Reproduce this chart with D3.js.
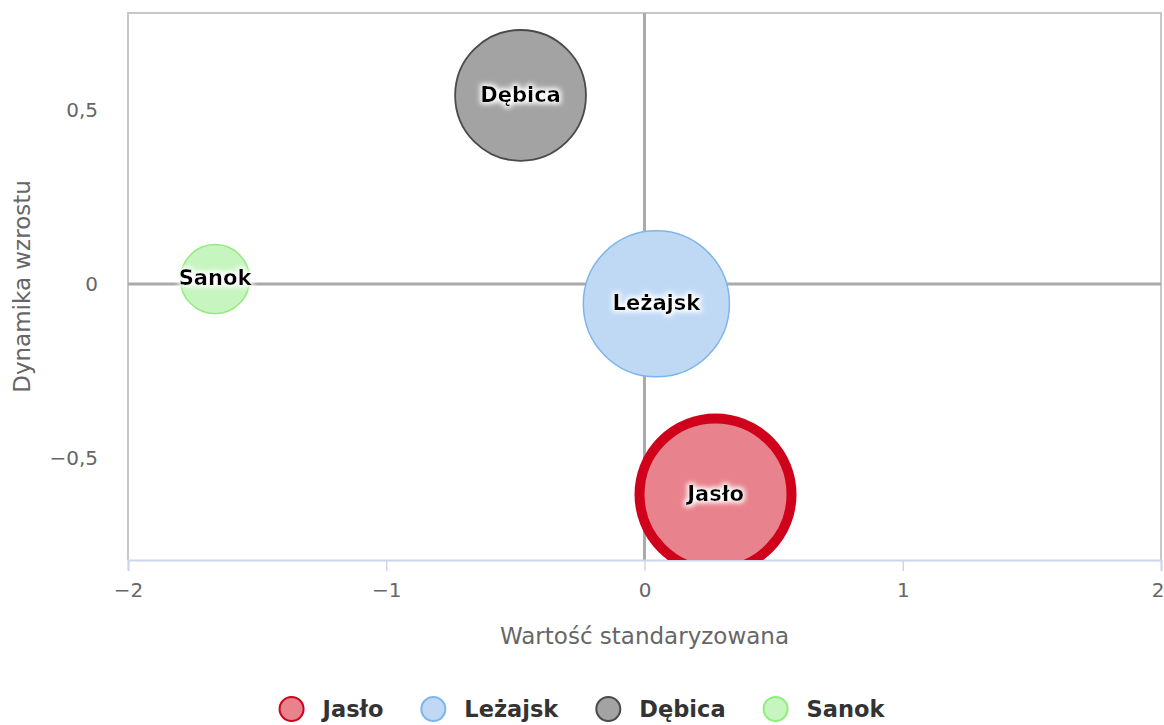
<!DOCTYPE html>
<html>
<head>
<meta charset="utf-8">
<script src="https://cdn.jsdelivr.net/npm/d3@7"></script>
<style>
  body { margin: 0; background: #fff; }
  text { font-family: "DejaVu Sans", sans-serif; }
</style>
</head>
<body>
<script>
var names = ["Jasło", "Leżajsk", "Dębica", "Sanok"];
var xValues = [0.275, 0.046, -0.48, -1.663];
var yValues = [-0.606, -0.057, 0.543, 0.014];
var zValues = [100, 83, 67, 19];
var fills = ["#e8828c", "#bfd9f5", "#a3a3a3", "#c6f5c0"];
var strokes = ["#d0021b", "#7cb5ec", "#4a4a4a", "#90ed7d"];
var strokeWidths = [10, 1.5, 1.8, 1.5];
var xTicks = [-2, -1, 0, 1, 2];
var yTicks = [-0.5, 0, 0.5];

var svg = d3.select("body").append("svg")
  .attr("width", 1164)
  .attr("height", 725);

var margin = { top: 13, right: 3, bottom: 165, left: 128 },
  width = 1164 - margin.left - margin.right,
  height = 725 - margin.top - margin.bottom,
  g = svg.append("g").attr("transform", "translate(" + margin.left + "," + margin.top + ")");

var x = d3.scaleLinear().domain([-2, 2]).range([0, width]);
var y = d3.scaleLinear().domain([-0.7945, 0.7802]).range([height, 0]);
var r = d3.scaleSqrt().domain([0, 100]).range([0, 81]);

var fmt = function(d) {
  return d3.format("")(d).replace(".", ",").replace("-", "\u2212");
};

var defs = svg.append("defs");
defs.append("clipPath").attr("id", "plot")
  .append("rect").attr("width", width).attr("height", height);
var glow = defs.append("filter").attr("id", "glow")
  .attr("x", "-30%").attr("y", "-60%").attr("width", "160%").attr("height", "220%");
glow.append("feMorphology").attr("in", "SourceAlpha").attr("operator", "dilate").attr("radius", 1.5).attr("result", "d");
glow.append("feGaussianBlur").attr("in", "d").attr("stdDeviation", 2.5).attr("result", "b");
glow.append("feFlood").attr("flood-color", "#fff");
glow.append("feComposite").attr("in2", "b").attr("operator", "in").attr("result", "w");
var merge = glow.append("feMerge");
merge.append("feMergeNode").attr("in", "w");
merge.append("feMergeNode").attr("in", "SourceGraphic");

// plot frame
g.append("path")
  .attr("d", "M0," + height + "V0H" + width + "V" + height)
  .attr("fill", "none")
  .attr("stroke", "#c8c8c8")
  .attr("stroke-width", 2);

// zero lines
g.append("line")
  .attr("x1", 0).attr("x2", width)
  .attr("y1", y(0)).attr("y2", y(0))
  .attr("stroke", "#aaa").attr("stroke-width", 3);
g.append("line")
  .attr("x1", x(0)).attr("x2", x(0))
  .attr("y1", 0).attr("y2", height)
  .attr("stroke", "#aaa").attr("stroke-width", 3);

// x axis
var xAxis = g.append("g")
  .attr("transform", "translate(0," + height + ")")
  .call(d3.axisBottom(x).tickValues(xTicks).tickSize(11).tickPadding(12).tickFormat(fmt));
xAxis.select(".domain").attr("stroke", "#ccd6eb").attr("stroke-width", 2);
xAxis.selectAll(".tick line").attr("stroke", "#ccd6eb").attr("stroke-width", 1.5);
xAxis.selectAll("text").attr("fill", "#666").style("font-size", "20px");
xAxis.selectAll(".tick text").filter(function(d) { return d === 2; })
  .attr("text-anchor", "end").attr("x", 3);

// y axis
var yAxis = g.append("g")
  .call(d3.axisLeft(y).tickValues(yTicks).tickSize(0).tickPadding(30).tickFormat(fmt));
yAxis.select(".domain").remove();
yAxis.selectAll("text").attr("fill", "#666").style("font-size", "20px");

// axis titles
svg.append("text")
  .attr("x", margin.left + x(0))
  .attr("y", 644)
  .attr("text-anchor", "middle")
  .attr("fill", "#666")
  .style("font-size", "23px")
  .text("Wartość standaryzowana");
svg.append("text")
  .attr("transform", "translate(30," + (margin.top + height / 2) + ") rotate(-90)")
  .attr("text-anchor", "middle")
  .attr("fill", "#666")
  .style("font-size", "23px")
  .text("Dynamika wzrostu");

// bubbles
var data = names.map(function(n, i) {
  return { name: n, x: xValues[i], y: yValues[i], z: zValues[i], i: i };
});

var bubbles = g.append("g").attr("clip-path", "url(#plot)");
bubbles.selectAll("circle")
  .data(data)
  .enter().append("circle")
  .attr("cx", function(d) { return x(d.x); })
  .attr("cy", function(d) { return y(d.y); })
  .attr("r", function(d) { return r(d.z) - strokeWidths[d.i] / 2; })
  .attr("fill", function(d) { return fills[d.i]; })
  .attr("stroke", function(d) { return strokes[d.i]; })
  .attr("stroke-width", function(d) { return strokeWidths[d.i]; });

g.selectAll(".label")
  .data(data)
  .enter().append("text")
  .attr("class", "label")
  .attr("x", function(d) { return x(d.x); })
  .attr("y", function(d) { return y(d.y); })
  .attr("dy", "0.3em")
  .attr("text-anchor", "middle")
  .attr("filter", "url(#glow)")
  .attr("fill", "#000")
  .style("font-size", "21px")
  .style("font-weight", "bold")
  .text(function(d) { return d.name; });

// legend, laid out left to right and centred on the chart
var legend = svg.append("g").attr("transform", "translate(0,709)");
var items = legend.selectAll("g")
  .data(data)
  .enter().append("g");
items.append("circle")
  .attr("r", 12)
  .attr("fill", function(d) { return fills[d.i]; })
  .attr("stroke", function(d) { return strokes[d.i]; })
  .attr("stroke-width", 2);
items.append("text")
  .attr("x", 31)
  .attr("dy", "0.36em")
  .attr("fill", "#333")
  .style("font-size", "22.5px")
  .style("font-weight", "bold")
  .text(function(d) { return d.name; });

var pos = 0, offsets = [];
items.each(function() {
  var w = d3.select(this).select("text").node().getComputedTextLength();
  offsets.push(pos);
  pos += 31 + w + 50;
});
var total = pos - 50 + 12;
var start = (1164 - total) / 2 + 12;
items.attr("transform", function(d, i) { return "translate(" + (start + offsets[i]) + ",0)"; });
</script>
</body>
</html>
